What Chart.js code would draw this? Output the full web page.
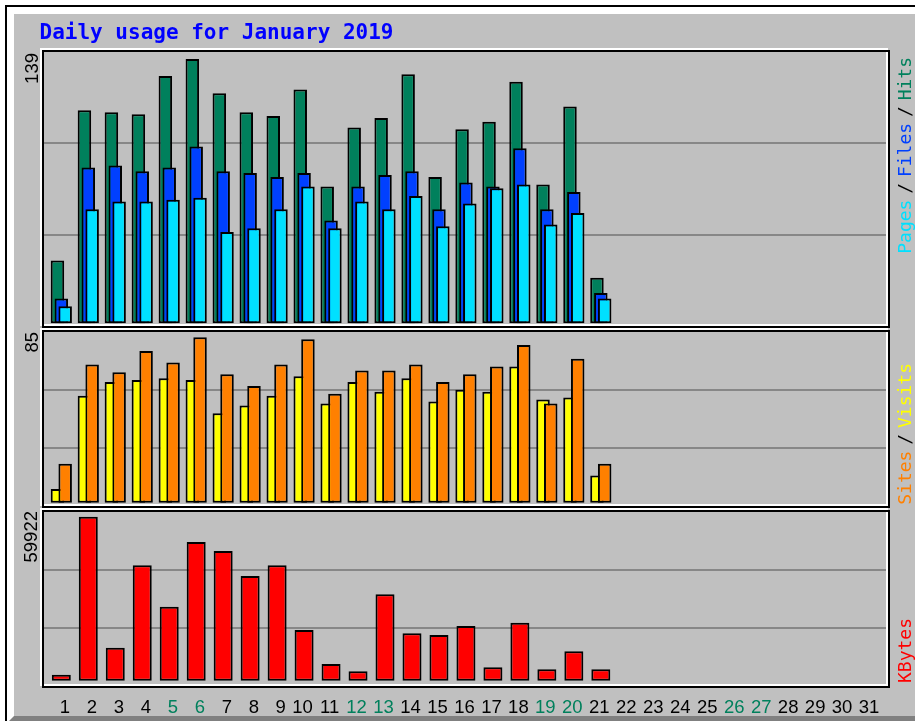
<!DOCTYPE html>
<html>
<head>
<meta charset="utf-8">
<title>Daily usage for January 2019</title>
<script src="https://cdn.jsdelivr.net/npm/chart.js@4.4.1/dist/chart.umd.min.js"></script>
<style>
  body { margin: 0; background: #fff; width: 915px; height: 721px; overflow: hidden; position: relative; }
  #edge { position: absolute; left: 5px; top: 5px; width: 1000px; height: 1000px; border-left: 2px solid #000; border-top: 2px solid #000; }
  #bevel { position: absolute; left: 7px; top: 7px; width: 1000px; height: 702px; border: 7px solid; border-color: #fff #808080 #808080 #fff; background: #c0c0c0; }
  canvas { position: absolute; left: 0; top: 0; }
  .t { position: absolute; white-space: nowrap; z-index: 2; }
  #title { left: 39.5px; top: 22px; font: bold 21px/21px "DejaVu Sans Mono", monospace; color: #0000ff; }
  .up { transform-origin: 100% 0; transform: rotate(-90deg); }
  .peak { right: 892.4px; font: 18.5px/18.5px "Liberation Sans", Arial, sans-serif; color: #000; }
  .side { right: 19.4px; font: 18px/18px "DejaVu Sans Mono", monospace; word-spacing: -5px; color: #000; }
</style>
</head>
<body>
<div id="edge"></div>
<div id="bevel"></div>
<canvas id="dailyChart" width="915" height="721"></canvas>

<div class="t" id="title">Daily usage for January 2019</div>
<div class="t up peak" id="peakHits" style="top:52.5px"></div>
<div class="t up peak" id="peakSites" style="top:332px"></div>
<div class="t up peak" id="peakKB" style="top:511px"></div>
<div class="t up side" style="top:57px"><span style="color:#00e0ff">Pages</span> / <span style="color:#0040ff">Files</span> / <span style="color:#00805c">Hits</span></div>
<div class="t up side" style="top:363px"><span style="color:#ff8000">Sites</span> / <span style="color:#ffff00">Visits</span></div>
<div class="t up side" style="top:618px"><span style="color:#ff0000">KBytes</span></div>

<script>
// days of the month on the bottom axis
const days = [1, 2, 3, 4, 5, 6, 7, 8, 9, 10, 11, 12, 13, 14, 15, 16, 17, 18, 19, 20,
  21, 22, 23, 24, 25, 26, 27, 28, 29, 30, 31];
const weekendDays = [5, 6, 12, 13, 19, 20, 26, 27];

// daily values (only 21 days logged so far)
const hits = [33, 112, 111, 110, 130, 139, 121, 111, 109, 123, 72, 103, 108, 131, 77, 102, 106, 127, 73, 114, 24];
const files = [13, 82, 83, 80, 82, 93, 80, 79, 77, 79, 54, 72, 78, 80, 60, 74, 72, 92, 60, 69, 16];
const pages = [9, 60, 64, 64, 65, 66, 48, 50, 60, 72, 50, 64, 60, 67, 51, 63, 71, 73, 52, 58, 13];
const visits = [7, 55, 62, 63, 64, 63, 46, 50, 55, 65, 51, 62, 57, 64, 52, 58, 57, 70, 53, 54, 14];
const sites = [20, 71, 67, 78, 72, 85, 66, 60, 71, 84, 56, 68, 68, 71, 62, 66, 70, 81, 51, 74, 20];
const kbytes = [2190, 59922, 12060, 42170, 27040, 50680, 47390, 38260, 42170, 18530, 6100, 3440,
  31570, 17320, 16700, 19990, 4900, 21190, 4170, 10740, 4170];

// peak value printed at the top of each panel
const peakLabels = ['139', '85', '59922'];

document.getElementById('peakHits').textContent = peakLabels[0];
document.getElementById('peakSites').textContent = peakLabels[1];
document.getElementById('peakKB').textContent = peakLabels[2];

// visible day range and the shift between overlapping bars (in days)
const X_MIN = 0.21;
const X_MAX = 31.72;
const BAR_SHIFT = 0.143;

// y range so the peak bar stops a bit under the frame top
function yAxis(peak, height, topGap, baseGap, weight) {
  const perPx = peak / (height - topGap - baseGap);
  return {
    type: 'linear',
    position: 'left',
    stack: 'panels',
    stackWeight: height,
    weight: weight,
    stacked: false,
    min: -baseGap * perPx,
    max: peak + topGap * perPx,
    border: { display: false },
    ticks: { display: false },
    grid: { color: '#878787', lineWidth: 2, drawTicks: false },
    // two guide lines at thirds of the framed area
    afterBuildTicks: (s) => {
      s.ticks = [1, 2].map(k => ({ value: s.min + (s.max - s.min) * (1 + (height - 4) * k / 3) / height }));
    }
  };
}

function hiddenX(shift) {
  return { type: 'linear', position: 'bottom', display: false, offset: false, min: X_MIN - shift, max: X_MAX - shift };
}

const pts = (vals) => vals.map((v, i) => ({ x: days[i], y: v }));

// draws the sunken frame round every panel
const panelFrames = {
  id: 'panelFrames',
  beforeDatasetsDraw(chart) {
    const { ctx, chartArea: a } = chart;
    ctx.save();
    ctx.lineWidth = 2;
    ['yHits', 'ySites', 'yKB'].forEach(id => {
      const s = chart.scales[id];
      const w = a.right - a.left - 4;
      const h = s.bottom - s.top - 4;
      ctx.strokeStyle = '#ffffff';
      ctx.strokeRect(a.left + 1, s.top + 1, w, h);
      ctx.strokeStyle = '#000000';
      ctx.strokeRect(a.left + 3, s.top + 3, w, h);
    });
    ctx.restore();
  }
};

function createChart() {
  const ctx = document.getElementById('dailyChart').getContext('2d');
  new Chart(ctx, {
    type: 'bar',
    data: {
      datasets: [
        { label: 'Hits', data: pts(hits), xAxisID: 'xL', yAxisID: 'yHits', backgroundColor: '#00805c', order: 3 },
        { label: 'Files', data: pts(files), xAxisID: 'x', yAxisID: 'yHits', backgroundColor: '#0040ff', order: 2 },
        { label: 'Pages', data: pts(pages), xAxisID: 'xR', yAxisID: 'yHits', backgroundColor: '#00e0ff', order: 1 },
        { label: 'Visits', data: pts(visits), xAxisID: 'xL', yAxisID: 'ySites', backgroundColor: '#ffff00', order: 2 },
        { label: 'Sites', data: pts(sites), xAxisID: 'xR', yAxisID: 'ySites', backgroundColor: '#ff8000', order: 1 },
        { label: 'KBytes', data: pts(kbytes), xAxisID: 'x', yAxisID: 'yKB', backgroundColor: '#ff0000', order: 1, barThickness: 19 }
      ]
    },
    options: {
      responsive: false,
      devicePixelRatio: 1,
      animation: false,
      layout: { autoPadding: false, padding: { left: 40, right: 25, top: 48, bottom: 0 } },
      datasets: {
        bar: {
          grouped: false,
          barThickness: 13.5,
          borderWidth: 2,
          borderColor: '#000000',
          borderSkipped: false,
          inflateAmount: 0
        }
      },
      plugins: {
        legend: { display: false },
        tooltip: { enabled: false }
      },
      scales: {
        x: {
          type: 'linear',
          position: 'bottom',
          offset: false,
          min: X_MIN,
          max: X_MAX,
          grid: { display: false },
          border: { display: false },
          afterBuildTicks: (s) => { s.ticks = days.map(d => ({ value: d })); },
          afterFit: (s) => { s.height = 33; },
          ticks: {
            autoSkip: false,
            maxRotation: 0,
            padding: 1,
            labelOffset: -1.5,
            font: { family: 'Liberation Sans', size: 18.5 },
            color: (c) => weekendDays.includes(c.tick.value) ? '#00805c' : '#000000',
            callback: (v) => (v < 10 ? '\u2007' : '') + v
          }
        },
        xL: hiddenX(-BAR_SHIFT),
        xR: hiddenX(BAR_SHIFT),
        yHits: yAxis(Math.max(...hits), 280, 11, 4.7, 3),
        ySites: yAxis(Math.max(...sites), 180, 9.3, 5.3, 2),
        yKB: yAxis(Math.max(...kbytes), 180, 8.7, 7.3, 1)
      }
    },
    plugins: [panelFrames]
  });
}

createChart();
</script>
</body>
</html>
